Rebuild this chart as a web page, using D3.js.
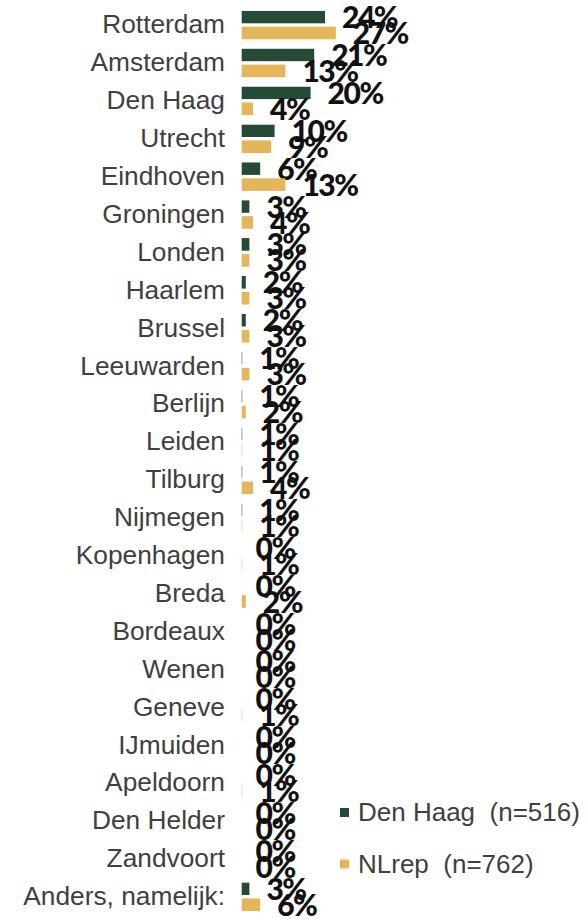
<!DOCTYPE html>
<html>
<head>
<meta charset="utf-8">
<script src="https://cdn.jsdelivr.net/npm/d3@7"></script>
<style>
  body { margin: 0; background: #fff; }
  svg { display: block; }
</style>
</head>
<body>
<svg id="chart" width="585" height="919"></svg>
<script>
// steden, van boven naar beneden
const categories = ['Rotterdam', 'Amsterdam', 'Den Haag', 'Utrecht', 'Eindhoven', 'Groningen',
    'Londen', 'Haarlem', 'Brussel', 'Leeuwarden', 'Berlijn', 'Leiden', 'Tilburg', 'Nijmegen',
    'Kopenhagen', 'Breda', 'Bordeaux', 'Wenen', 'Geneve', 'IJmuiden', 'Apeldoorn',
    'Den Helder', 'Zandvoort', 'Anders, namelijk:'];

const denHaag = [24, 21, 20, 10, 6, 3, 3, 2, 2, 1, 1, 1, 1, 1, 0, 0, 0, 0, 0, 0, 0, 0, 0, 3];
const nlRep   = [27, 13, 4, 9, 13, 4, 3, 3, 3, 3, 2, 1, 4, 1, 1, 2, 0, 0, 1, 0, 1, 0, 0, 6];

const seriesKeys = ['dh', 'nl'];
const seriesNames = ['Den Haag  (n=516)', 'NLrep  (n=762)'];
const seriesColors = ['#254a36', '#e5b55a'];

let svg = d3.select('#chart');

let rows = categories.map(function(c, i) {
    return { cat: c, dh: denHaag[i], nl: nlRep[i] };
});

let x = d3.scaleLinear()
    .domain([0, 27])
    .range([238.6, 335.8]);

let y = d3.scaleBand()
    .domain(categories)
    .range([1.4, 920.3])
    .padding(0.245);

let ySub = d3.scaleBand()
    .domain(seriesKeys)
    .range([0, y.bandwidth()])
    .paddingInner(0.2125);

let color = d3.scaleOrdinal()
    .domain(seriesKeys)
    .range(seriesColors);

// de staven beginnen pas net rechts van de as
svg.append('clipPath')
    .attr('id', 'plotclip')
    .append('rect')
    .attr('x', 241.7)
    .attr('y', 0)
    .attr('width', 400)
    .attr('height', 919);

// categorie labels
svg.append('g')
    .selectAll('text')
    .data(categories)
    .enter()
    .append('text')
    .attr('x', 225)
    .attr('y', function(d) { return y(d) + y.bandwidth() / 2; })
    .attr('dy', '0.32em')
    .attr('text-anchor', 'end')
    .attr('font-family', '"Liberation Sans", Arial, sans-serif')
    .attr('font-size', 26.3)
    .attr('fill', '#404040')
    .text(function(d) { return d; });

let groups = svg.append('g')
    .selectAll('g.row')
    .data(rows)
    .enter()
    .append('g')
    .attr('class', 'row')
    .attr('transform', function(d) { return 'translate(0,' + y(d.cat) + ')'; });

let cells = groups.selectAll('g.cell')
    .data(function(d) { return seriesKeys.map(function(k) { return { key: k, value: d[k] }; }); })
    .enter()
    .append('g')
    .attr('class', 'cell');

cells.append('rect')
    .attr('clip-path', 'url(#plotclip)')
    .attr('x', x(0))
    .attr('y', function(d) { return ySub(d.key); })
    .attr('width', function(d) { return x(d.value) - x(0); })
    .attr('height', ySub.bandwidth())
    .attr('fill', function(d) { return color(d.key); });

cells.append('text')
    .attr('x', function(d) { return x(d.value) + 17; })
    .attr('y', function(d) { return ySub(d.key) + ySub.bandwidth() / 2; })
    .attr('dy', '0.37em')
    .attr('font-family', 'Lato, "Open Sans", sans-serif')
    .attr('font-weight', 900)
    .attr('font-size', 30)
    .attr('letter-spacing', -1.5)
    .attr('fill', '#111111')
    .text(function(d) { return d.value + '%'; });

// legenda
let legend = svg.append('g')
    .selectAll('g.legend')
    .data(seriesKeys)
    .enter()
    .append('g')
    .attr('class', 'legend')
    .attr('transform', function(d, i) { return 'translate(340,' + (808 + i * 51.5) + ')'; });

legend.append('rect')
    .attr('width', 9)
    .attr('height', 9)
    .attr('fill', function(d) { return color(d); });

legend.append('text')
    .attr('x', 18)
    .attr('y', 13)
    .attr('font-family', '"Liberation Sans", Arial, sans-serif')
    .attr('font-size', 26)
    .attr('fill', '#404040')
    .style('white-space', 'pre')
    .text(function(d, i) { return seriesNames[i]; });
</script>
</body>
</html>
